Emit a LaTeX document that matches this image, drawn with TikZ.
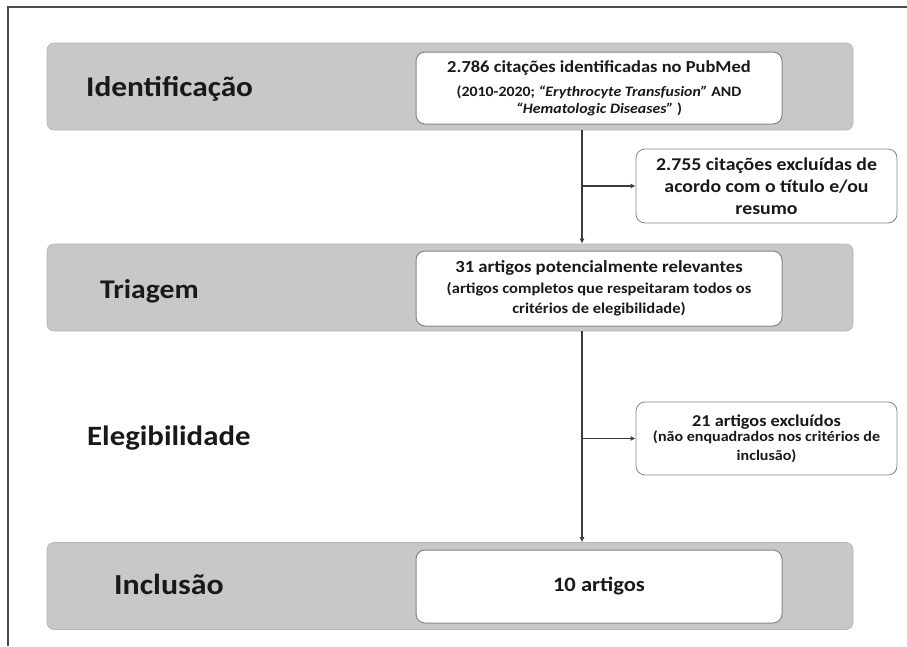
\documentclass[tikz,border=0pt]{standalone}
\usepackage{fontspec}
\setmainfont{Carlito}[FakeStretch=1.1]
\usepackage{xcolor}
\usepackage{tikz}
\usetikzlibrary{positioning}
\usetikzlibrary{arrows.meta}

\definecolor{bandgray}{HTML}{C8C8C8}
\definecolor{boxline}{HTML}{858585}
\definecolor{linegray}{HTML}{3C3C3C}

\begin{document}
\begin{tikzpicture}[x=1pt, y=-1pt,
        band/.style={fill=bandgray, draw=bandgray!90!black, line width=0.6pt, rounded corners=7pt,
            minimum width=806pt, minimum height=87pt, inner sep=0pt},
        box/.style={fill=white, draw=boxline, line width=1pt, rounded corners=9pt,
            minimum width=366pt, inner sep=0pt, align=center, text=black!90},
        excl/.style={fill=white, draw=boxline, line width=0.8pt, rounded corners=9pt,
            minimum width=261pt, inner sep=0pt, align=center, text=black!90},
        stage/.style={anchor=base west, inner sep=0pt, text=black!90},
        flow/.style={linegray, line width=1.8pt, -{Latex[length=5pt, width=5pt]}},
        branch/.style={linegray, line width=1.3pt, -{Latex[length=5pt, width=5pt]}}
    ]
        \useasboundingbox (0,0) rectangle (907,646);

        % Moldura
        \draw[black!70, line width=2pt] (8,646) -- (8,7) -- (907,7);

        % Faixas das etapas
        \node[band] (band1) at (450,86.5) {};
        \node[band] (band2) at (450,287.5) {};
        \node[band] (band4) at (450,586) {};

        % Nomes das etapas
        \node[stage, font=\fontsize{28.5}{32}\selectfont\bfseries] (ident) at (86,96) {Identificação};
        \node[stage, font=\fontsize{27}{30}\selectfont\bfseries] (triag) at (100,298) {Triagem};
        \node[stage, font=\fontsize{28}{32}\selectfont\bfseries] (elegi) at (87,445) {Elegibilidade};
        \node[stage, font=\fontsize{29}{32}\selectfont\bfseries] (inclu) at (114,594) {Inclusão};

        % Caixas do fluxo
        \node[box, minimum height=72pt, font=\fontsize{14.4}{17}\selectfont\bfseries] (box1) at (599,88) {%
            {\fontsize{16.8}{17}\selectfont 2.786 citações identificadas no PubMed}\\[7pt]
            (2010-2020; \textit{“Erythrocyte Transfusion”} AND\\
            \textit{“Hematologic Diseases”} )};
        \node[box, minimum height=75pt, font=\fontsize{15}{20}\selectfont\bfseries] (box2) at (599,288.5) {%
            {\fontsize{17}{20}\selectfont 31 artigos potencialmente relevantes}\\[1pt]
            (artigos completos que respeitaram todos os\\
            critérios de elegibilidade)};
        \node[box, minimum height=73pt, font=\fontsize{20.5}{24}\selectfont\bfseries] (box4) at (599,586.5) {10 artigos};

        % Caixas de exclusão
        \node[excl, minimum height=74pt, font=\fontsize{18}{22}\selectfont\bfseries] (excl1) at (766.5,186) {%
            2.755 citações excluídas de\\
            acordo com o título e/ou\\
            resumo};
        \node[excl, minimum height=73pt, font=\fontsize{14.6}{18.5}\selectfont\bfseries] (excl2) at (766.5,438.5) {%
            {\fontsize{16.6}{18.5}\selectfont 21 artigos excluídos}\\[-3pt]
            (não enquadrados nos critérios de\\
            inclusão)};

        % Setas
        \coordinate (trunk) at (582,0);
        \draw[flow] (band1.south -| trunk) -- (band2.north -| trunk);
        \draw[flow] (band2.south -| trunk) -- (band4.north -| trunk);
        \draw[branch] (trunk |- excl1.west) -- (excl1.west);
        \draw[branch] (trunk |- excl2.west) -- (excl2.west);

    \end{tikzpicture}
\end{document}
